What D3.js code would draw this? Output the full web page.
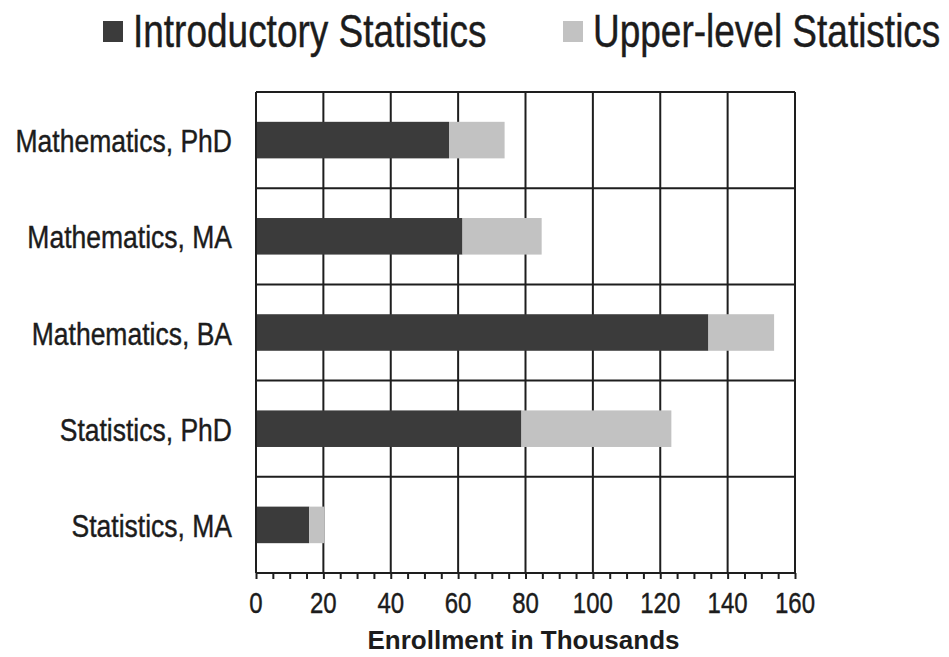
<!DOCTYPE html>
<html>
<head>
<meta charset="utf-8">
<script src="https://cdn.jsdelivr.net/npm/d3@7"></script>
<style>
  html, body { margin: 0; padding: 0; background: #fff; }
  svg { display: block; font-family: "Liberation Sans", Arial, sans-serif; }
</style>
</head>
<body>
<svg id="chart" width="949" height="657"></svg>
<script>
// Degree programs (top to bottom) and enrollments in thousands
const categories = ["Mathematics, PhD", "Mathematics, MA", "Mathematics, BA", "Statistics, PhD", "Statistics, MA"];
const introductory = [57, 61, 134, 78.5, 15.5];
const upperLevel = [16.5, 23.5, 19.5, 44.5, 4.5];
const seriesNames = ["Introductory Statistics", "Upper-level Statistics"];
const xTicks = [0, 20, 40, 60, 80, 100, 120, 140, 160];

const colors = ["#3b3b3b", "#c2c2c2"];
const gridColor = "#1e1e1e";
const textColor = "#1c1c1c";

const svg = d3.select("#chart");
const margin = { left: 256, right: 154, top: 92, bottom: 84 };
const W = 949, H = 657;
const innerW = W - margin.left - margin.right;
const innerH = H - margin.top - margin.bottom;

const x = d3.scaleLinear().domain([0, 160]).range([margin.left, margin.left + innerW]);
const y = d3.scaleBand().domain(categories).range([margin.top, margin.top + innerH]).paddingInner(0).paddingOuter(0);

const g = svg.append("g");

// Text is drawn slightly tall (vertical stretch) as in the printed figure
function tallText(sel, px, py, sy) {
  return sel.attr("transform", `translate(${px},${py}) scale(1,${sy})`)
    .attr("stroke", textColor).attr("stroke-width", 0.35);
}

// Stacked data
const rows = categories.map((c, i) => ({ cat: c, intro: introductory[i], upper: upperLevel[i] }));
const stack = d3.stack().keys(["intro", "upper"])(rows);

// Grid: vertical lines every 20, horizontal lines at category boundaries
g.append("g").selectAll("line").data(xTicks).join("line")
  .attr("x1", d => x(d)).attr("x2", d => x(d))
  .attr("y1", margin.top).attr("y2", margin.top + innerH)
  .attr("stroke", gridColor).attr("stroke-width", 2);

const bounds = categories.map(c => y(c)).concat([margin.top + innerH]);
g.append("g").selectAll("line").data(bounds).join("line")
  .attr("x1", x(0)).attr("x2", x(160))
  .attr("y1", d => d).attr("y2", d => d)
  .attr("stroke", gridColor).attr("stroke-width", 2);

// Bars
const barH = y.bandwidth() * 0.38;
g.append("g").selectAll("g").data(stack).join("g")
  .attr("fill", (d, i) => colors[i])
  .selectAll("rect").data(d => d).join("rect")
  .attr("x", d => x(d[0]) + 1)
  .attr("width", d => Math.max(0, x(d[1]) - x(d[0])))
  .attr("y", d => y(d.data.cat) + (y.bandwidth() - barH) / 2)
  .attr("height", barH);

// X axis with minor ticks every 5
const axisY = margin.top + innerH;
const axis = g.append("g").attr("transform", `translate(0,${axisY})`);
axis.call(d3.axisBottom(x).tickValues(d3.range(0, 161, 5)).tickSize(6).tickFormat(""))
  .call(a => a.select(".domain").remove())
  .call(a => a.selectAll("line").attr("stroke", gridColor).attr("stroke-width", 2));

g.append("g").selectAll("text").data(xTicks).join("text")
  .each(function(d) { tallText(d3.select(this), x(d), 613, 1.22); })
  .attr("text-anchor", "middle")
  .attr("font-size", 24).attr("fill", textColor)
  .text(d => d);

// Y category labels
g.append("g").selectAll("text").data(categories).join("text")
  .each(function(d) { tallText(d3.select(this), 232, y(d) + y.bandwidth() / 2 + 12, 1.2); })
  .attr("text-anchor", "end")
  .attr("font-size", 26.5).attr("fill", textColor)
  .text(d => d);

// Axis title
tallText(g.append("text"), x(80) - 2, 649, 1.0)
  .attr("text-anchor", "middle")
  .attr("font-size", 26).attr("font-weight", "bold").attr("fill", textColor)
  .attr("stroke-width", 0)
  .text("Enrollment in Thousands");

// Legend
const legendX = [103, 563];
const leg = g.append("g").selectAll("g").data(seriesNames).join("g")
  .attr("transform", (d, i) => `translate(${legendX[i]},0)`);
leg.append("rect").attr("x", 0).attr("y", 21).attr("width", 20).attr("height", 21)
  .attr("fill", (d, i) => colors[i]);
leg.append("text")
  .each(function() { tallText(d3.select(this), 30, 47, 1.24); })
  .attr("font-size", 37).attr("fill", textColor)
  .text(d => d);
</script>
</body>
</html>
